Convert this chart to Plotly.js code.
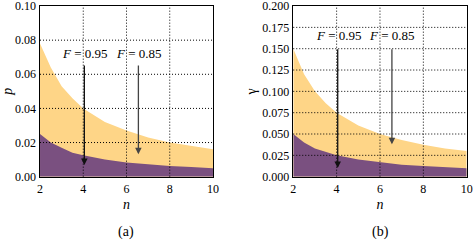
<!DOCTYPE html>
<html><head><meta charset="utf-8">
<script src="https://cdn.plot.ly/plotly-3.0.1.min.js"></script>
<style>html,body{margin:0;padding:0;background:#fff}#c{width:473px;height:242px}</style>
</head><body><div id="c"></div>
<script>
const n = [2, 2.5, 3, 3.5, 4, 5, 6, 7, 8, 9, 10];
const pUpper = [0.078, 0.064, 0.053, 0.046, 0.040, 0.032, 0.027, 0.023, 0.020, 0.018, 0.016];
const pLower = [0.025, 0.020, 0.017, 0.014, 0.0125, 0.010, 0.0083, 0.0071, 0.0063, 0.0056, 0.005];
const gUpper = [0.150, 0.120, 0.100, 0.086, 0.075, 0.060, 0.050, 0.043, 0.0375, 0.033, 0.030];
const gLower = [0.050, 0.040, 0.033, 0.029, 0.025, 0.020, 0.017, 0.014, 0.0125, 0.011, 0.010];
const xTicks = [2, 4, 6, 8, 10];
const pTicks = [0, 0.02, 0.04, 0.06, 0.08, 0.10];
const pTickText = ['0.00','0.02','0.04','0.06','0.08','0.10'];
const gTicks = [0, 0.025, 0.05, 0.075, 0.1, 0.125, 0.15, 0.175, 0.2];
const gTickText = ['0.000','0.025','0.050','0.075','0.100','0.125','0.150','0.175','0.200'];
const labels = ['<i>F</i> = 0.95', '<i>F</i> = 0.85'];
// arrows: [x, tailY, headY]
const pArrows = [[4.05, 0.066, 0.0068], [6.55, 0.066, 0.0132]];
const gArrows = [[4.05, 0.151, 0.0101], [6.55, 0.151, 0.038]];
const pLabelPos = [[4.07, 0.072], [6.6, 0.072]];
const gLabelPos = [[4.09, 0.166], [6.54, 0.166]];

const YEL = '#fed587', PUR = '#7a5080';
const FAM = 'serif';
function f(sz) { return {family: FAM, size: sz, color: '#000'}; }

function area(x, y, color, xa, ya) {
  return {x: x, y: y, type: 'scatter', mode: 'lines', fill: 'tozeroy', fillcolor: color,
    line: {width: 0, color: color}, xaxis: xa, yaxis: ya, hoverinfo: 'skip', showlegend: false};
}
const data = [
  area(n, pUpper, YEL, 'x', 'y'),
  area(n, pLower, PUR, 'x', 'y'),
  area(n, gUpper, YEL, 'x2', 'y2'),
  area(n, gLower, PUR, 'x2', 'y2')
];

const shapes = [];
const gl = {color: '#000', width: 1, dash: '1px,2px'};
function grid(xr, yr, xt, yt) {
  xt.slice(1, -1).forEach(v => shapes.push({type: 'line', xref: xr, yref: yr + ' domain', x0: v, x1: v, y0: 0, y1: 1,
    line: gl, layer: 'above'}));
  yt.slice(1, -1).forEach(v => shapes.push({type: 'line', xref: xr + ' domain', yref: yr, x0: 0, x1: 1, y0: v, y1: v,
    line: gl, layer: 'above'}));
}
grid('x', 'y', xTicks, pTicks);
grid('x2', 'y2', xTicks, gTicks);

const annotations = [];
function arrows(xr, yr, arr, lp) {
  const cols = ['#111', '#444'];
  arr.forEach((a, i) => annotations.push({xref: xr, yref: yr, axref: xr, ayref: yr, x: a[0], y: a[2], ax: a[0], ay: a[1],
    text: '', showarrow: true, arrowhead: 2, arrowsize: 1, arrowwidth: 1.3, arrowcolor: cols[i]}));
  lp.forEach((p, i) => annotations.push({xref: xr, yref: yr, x: p[0], y: p[1], text: labels[i], showarrow: false,
    font: f(13), xanchor: 'center', yanchor: 'middle'}));
}
arrows('x', 'y', pArrows, pLabelPos);
arrows('x2', 'y2', gArrows, gLabelPos);
annotations.push({xref: 'paper', yref: 'paper', x: 0.267, y: 0.041, text: '(a)', showarrow: false,
  font: f(14), xanchor: 'center', yanchor: 'middle'});
annotations.push({xref: 'paper', yref: 'paper', x: 0.805, y: 0.041, text: '(b)', showarrow: false,
  font: f(14), xanchor: 'center', yanchor: 'middle'});

function xax(dom, anchor) {
  return {domain: dom, anchor: anchor, range: [2, 10], tickvals: xTicks, ticktext: xTicks.map(String),
    showgrid: false, zeroline: false, showline: true, mirror: true, linecolor: '#000', linewidth: 1.5,
    ticks: '', tickfont: f(12), layer: 'above traces', ticklabeloverflow: 'allow',
    title: {text: '<i>n</i>', font: f(14), standoff: 4}};
}
function yax(anchor, range, tv, tt, title) {
  return {domain: [0.27, 0.975], anchor: anchor, range: range, tickvals: tv, ticktext: tt,
    showgrid: false, zeroline: false, showline: true, mirror: true, linecolor: '#000', linewidth: 1.5,
    ticks: '', tickfont: f(12), layer: 'above traces', ticklabeloverflow: 'allow',
    title: {text: title, font: f(14), standoff: 2}};
}

const layout = {
  width: 473, height: 242, margin: {l: 0, r: 0, t: 0, b: 0},
  paper_bgcolor: '#fff', plot_bgcolor: '#fff', font: f(12), showlegend: false,
  xaxis: xax([0.0846, 0.4503], 'y'),
  yaxis: yax('x', [0, 0.1], pTicks, pTickText, '<i>p</i>'),
  xaxis2: xax([0.620, 0.9867], 'y2'),
  yaxis2: yax('x2', [0, 0.2], gTicks, gTickText, 'γ'),
  shapes: shapes, annotations: annotations
};
Plotly.newPlot('c', data, layout, {staticPlot: true, displayModeBar: false});
</script></body></html>
